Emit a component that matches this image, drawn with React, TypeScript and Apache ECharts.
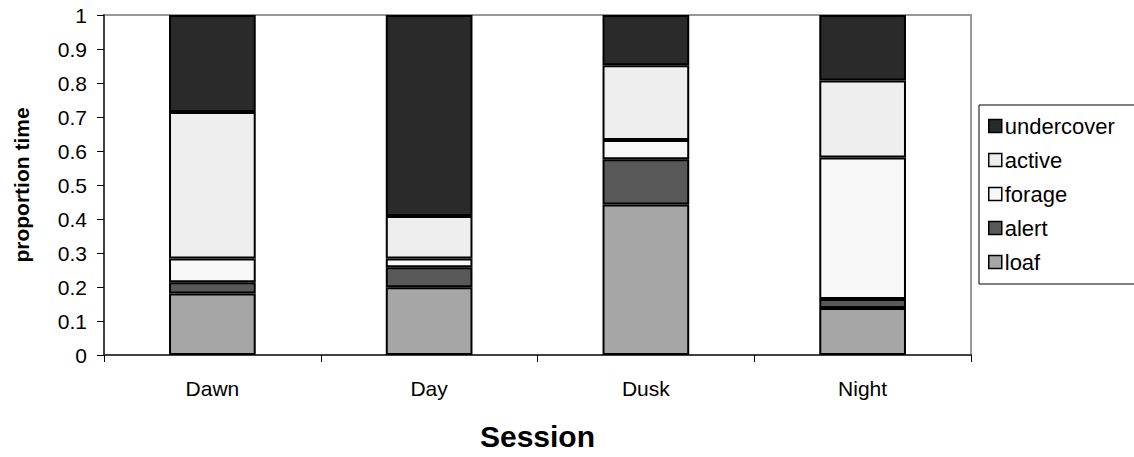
import React, { useEffect, useRef } from "react";
import * as echarts from "echarts";

const categories = ["Dawn", "Day", "Dusk", "Night"];
const loaf = [0.181, 0.199, 0.443, 0.138];
const alert = [0.033, 0.059, 0.133, 0.027];
const forage = [0.07, 0.026, 0.056, 0.416];
const active = [0.431, 0.125, 0.22, 0.226];
const undercover = [0.285, 0.591, 0.148, 0.193];
const seriesNames = ["loaf", "alert", "forage", "active", "undercover"];
const seriesColors = ["#a6a6a6", "#595959", "#f8f8f8", "#eeeeee", "#2a2a2a"];
const legendOrder = ["undercover", "active", "forage", "alert", "loaf"];

export default function App() {
  const ref = useRef<HTMLDivElement>(null);
  useEffect(() => {
    const chart = echarts.init(ref.current!, null, { renderer: "svg" });
    const values = [loaf, alert, forage, active, undercover];
    const font = "Liberation Sans, Arial, sans-serif";
    chart.setOption({
      animation: false,
      textStyle: { fontFamily: font },
      grid: {
        left: 104, top: 15, right: 163, bottom: 102,
        containLabel: false, outerBoundsMode: "none",
        show: true, borderColor: "#999", borderWidth: 2, backgroundColor: "transparent",
      },
      legend: {
        data: legendOrder,
        orient: "vertical",
        left: 979,
        top: 105,
        itemWidth: 13,
        itemHeight: 13,
        itemGap: 12,
        icon: "rect",
        padding: [10, 80, 11, 9],
        borderColor: "#000",
        borderWidth: 1,
        textStyle: { fontSize: 22, color: "#000", fontFamily: font, padding: [0, 0, 0, -2] },
        itemStyle: { borderColor: "#000", borderWidth: 1.5 },
      },
      xAxis: {
        type: "category",
        data: categories,
        axisLine: { lineStyle: { color: "#404040", width: 2 } },
        axisTick: { show: true, length: 7, lineStyle: { color: "#000" } },
        axisLabel: { color: "#000", fontSize: 21, margin: 23, fontFamily: font },
        name: "Session",
        nameLocation: "middle",
        nameGap: 66,
        nameTextStyle: { fontSize: 30, fontWeight: "bold", color: "#000", fontFamily: font },
      },
      yAxis: {
        type: "value",
        min: 0,
        max: 1,
        interval: 0.1,
        splitLine: { show: false },
        axisLine: { show: true, lineStyle: { color: "#404040", width: 2 } },
        axisTick: { show: true, length: 7, lineStyle: { color: "#000" } },
        axisLabel: { color: "#000", fontSize: 21, margin: 17, fontFamily: font, formatter: (v: number) => String(Math.round(v * 10) / 10) },
        name: "proportion time",
        nameLocation: "middle",
        nameGap: 72,
        nameRotate: 90,
        nameTextStyle: { fontSize: 21, fontWeight: "bold", color: "#000", fontFamily: font },
      },
      series: seriesNames.map((name, i) => ({
        name,
        type: "bar",
        stack: "total",
        barWidth: "40%",
        data: values[i],
        itemStyle: { color: seriesColors[i], borderColor: "#000", borderWidth: 2 },
      })),
    });
    return () => chart.dispose();
  }, []);
  return <div ref={ref} style={{ width: 1134, height: 457, position: "absolute", left: 0, top: 0 }} />;
}
